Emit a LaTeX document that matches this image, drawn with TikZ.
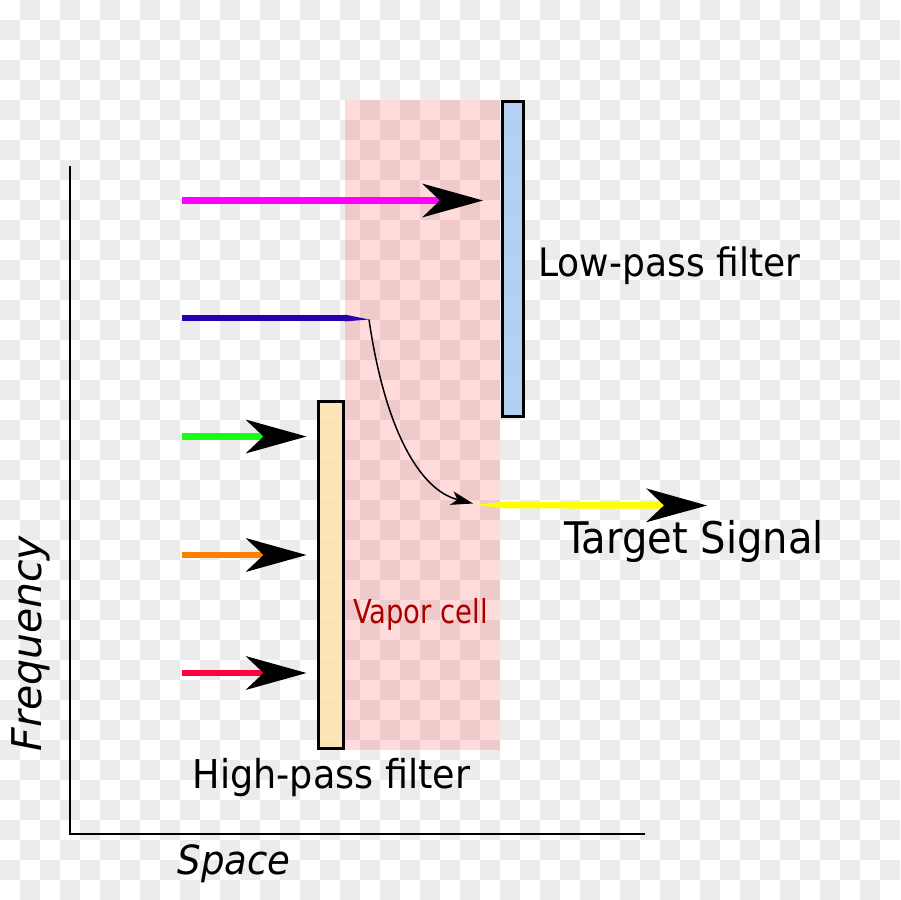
\documentclass[tikz,border=0pt]{standalone}
\usepackage{fontspec}
\setmainfont{DejaVu Sans}
\newfontfamily\labelfont{DejaVu Sans}[FakeStretch=0.92]
\newfontfamily\vaporfont{DejaVu Sans}[FakeStretch=0.83]
\usetikzlibrary{arrows.meta}
\definecolor{checkgray}{RGB}{236,236,236}
\definecolor{lpblue}{RGB}{172,204,245}
\definecolor{hpwheat}{RGB}{252,228,178}
\definecolor{beammagenta}{RGB}{255,0,255}
\definecolor{beamviolet}{RGB}{40,0,175}
\definecolor{beamgreen}{RGB}{20,255,20}
\definecolor{beamorange}{RGB}{255,128,0}
\definecolor{beamred}{RGB}{255,0,64}
\definecolor{beamyellow}{RGB}{255,255,0}
\definecolor{vaporred}{RGB}{170,0,0}

\begin{document}
\begin{tikzpicture}[x=0.02cm, y=-0.02cm,
        beam/.style={line width=3.8pt, -{Stealth[length=12.2mm, width=6.8mm, inset=3.6mm, color=black, line width=0pt]}},
        filter/.style={rectangle, draw, line width=1.7pt, fill opacity=0.9, inner sep=0pt},
        lbl/.style={inner sep=0pt, font=\labelfont\fontsize{22.3}{26}\selectfont},
    ]
        \useasboundingbox (0,0) rectangle (900,900);

        % Checker background
        \fill[white] (0,0) rectangle (900,900);
        \foreach \i in {0,2,...,44}
            \foreach \j in {1,3,...,43}
                \fill[checkgray] (20*\i,20*\j) rectangle +(20,20);
        \foreach \i in {1,3,...,43}
            \foreach \j in {0,2,...,44}
                \fill[checkgray] (20*\i,20*\j) rectangle +(20,20);

        % Vapor cell
        \fill[red, fill opacity=0.14] (345,100) rectangle (500,750);
        \node[inner sep=0pt, text=vaporred, font=\vaporfont\fontsize{18.8}{22}\selectfont] (vcl) at (420.5,614) {Vapor cell};

        % Filters
        \node[filter, fill=lpblue, minimum width=0.42cm, minimum height=6.3cm] (lpf) at (513,259) {};
        \node[filter, fill=hpwheat, minimum width=0.5cm, minimum height=6.94cm] (hpf) at (331,575) {};

        % Axes
        \coordinate (ytop) at (70,166);
        \coordinate (orig) at (70,834);
        \coordinate (xend) at (645,834);
        \draw[line width=1.15pt] (ytop) -- (orig) -- (xend);

        % Beams stopped by the high-pass filter
        \foreach \c/\y/\n in {beamgreen/436.5/g, beamorange/555/o, beamred/673/r} {
            \coordinate (\n s) at (182,\y);
            \coordinate (\n e) at (306.5,\y);
            \draw[beam, \c] (\n s) -- (\n e);
        }

        % Beam stopped by the low-pass filter
        \coordinate (ms) at (182,200.5);
        \coordinate (me) at (483,200.5);
        \draw[beam, beammagenta] (ms) -- (me);

        % Beam absorbed in the cell
        \coordinate (vs) at (182,318);
        \coordinate (vm) at (345,318);
        \coordinate (vt) at (369,319.5);
        \draw[line width=3.8pt, beamviolet] (vs) -- (vm);
        \fill[beamviolet] (345,314.6) -- (vt) -- (345,321.4) -- cycle;

        % Target signal
        \coordinate (bend) at (473,503.5);
        \coordinate (ys) at (474,505);
        \coordinate (ym) at (506,505);
        \coordinate (ye) at (707,505.5);
        \draw[line width=0.85pt, -{Stealth[length=4.4mm, width=2.8mm, inset=1.2mm, line width=0pt]}]
            (vt) .. controls (385,430) and (420,490) .. (bend);
        \fill[beamyellow] (ys) -- (506,501.6) -- (506,508.4) -- cycle;
        \draw[beam, beamyellow] (ym) -- (ye);

        % Labels
        \node[lbl, anchor=west] (lpl) at (538,266) {Low-pass filter};
        \node[lbl, font=\labelfont\fontsize{22.6}{26}\selectfont] (hpl) at (331.5,778) {High-pass filter};
        \node[lbl, font=\labelfont\fontsize{24.8}{28}\selectfont] (tsl) at (694,541) {Target Signal};
        \node[lbl, font=\labelfont\itshape\fontsize{22.9}{27}\selectfont] (xlbl) at (234,864) {Space};
        \node[inner sep=0pt, font=\itshape\fontsize{23.3}{27}\selectfont, rotate=90] (ylbl) at (31,643.5) {Frequency};
    \end{tikzpicture}
\end{document}
